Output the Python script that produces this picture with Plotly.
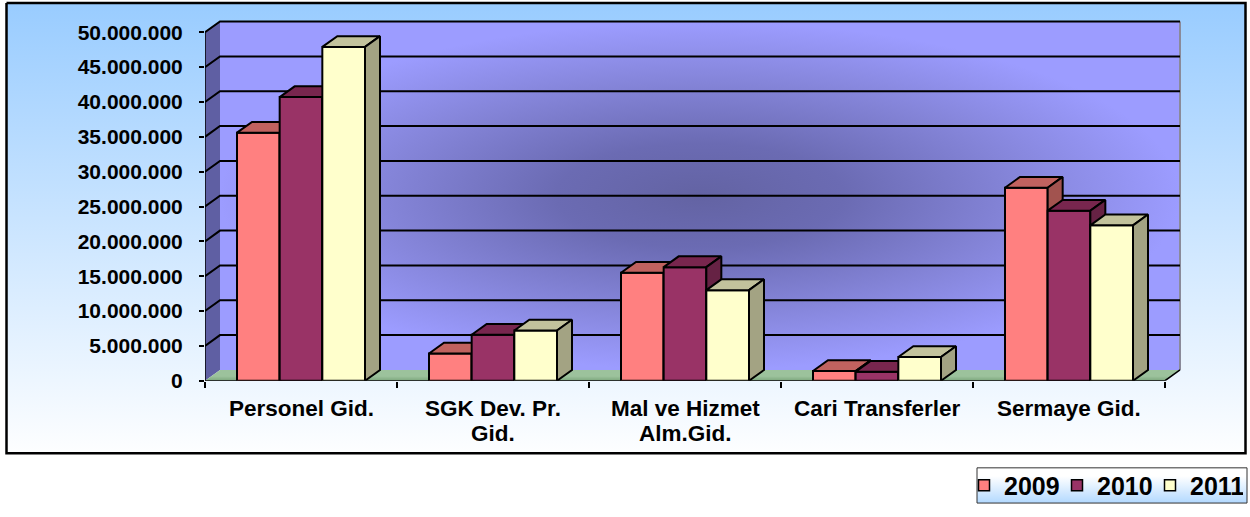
import plotly.graph_objects as go

# ---------------- data ----------------
categories = ["Personel Gid.", "SGK Dev. Pr.<br>Gid.", "Mal ve Hizmet<br>Alm.Gid.",
              "Cari Transferler", "Sermaye Gid."]
years = ["2009", "2010", "2011"]
values_2009 = [35.6e6, 3.9e6, 15.5e6, 1.4e6, 27.7e6]
values_2010 = [40.7e6, 6.6e6, 16.3e6, 1.3e6, 24.4e6]
values_2011 = [47.9e6, 7.2e6, 13.0e6, 3.4e6, 22.3e6]
y_tick_values = [0, 5e6, 10e6, 15e6, 20e6, 25e6, 30e6, 35e6, 40e6, 45e6, 50e6]

# ---------------- styles / geometry ----------------
W, H = 1250, 517
FONT = "Liberation Sans, Arial, sans-serif"
front_col = {"2009": "#FF8080", "2010": "#993366", "2011": "#FFFFCC"}
top_col = {"2009": "#C1625F", "2010": "#78264E", "2011": "#C2C29C"}
side_col = {"2009": "#A2534F", "2010": "#662244", "2011": "#A3A383"}

px_left, px_right_dom = 205, 1185
px_zero, px_top_dom = 389, 18
cat_px = 192.0
px_per_unit_y = (389 - 33) / 50e6
depth_px_x, depth_px_y = 15, 11
label_top_px, label_pitch_px = 403, 25

x_min = -0.5
x_max = x_min + (px_right_dom - px_left) / cat_px
y_max = (px_zero - px_top_dom) / px_per_unit_y
DX = depth_px_x / cat_px
DY = depth_px_y / px_per_unit_y
n_cat = len(categories)
x_end = n_cat - 0.5
group_w = 2 / 3.0
bar_w = group_w / 3
y_top = y_tick_values[-1]

fig = go.Figure()

# ---------------- background (pixel coordinate axes) ----------------
bx0, by0, bx1, by1 = 6.5, 3, 1245.5, 463
fig.add_trace(go.Scatter(
    x=[bx0, bx1, bx1, bx0, bx0], y=[by0, by0, by1, by1, by0],
    mode="lines", fill="toself", line=dict(color="black", width=2.5),
    fillgradient=dict(type="vertical", start=by0, stop=by1,
                      colorscale=[[0, "#99CCFF"], [1, "#FFFFFF"]]),
    hoverinfo="skip", showlegend=False, xaxis="x", yaxis="y"))

lx0, ly0, lx1, ly1 = 977, 478, 1247, 514
fig.add_trace(go.Scatter(
    x=[lx0, lx1, lx1, lx0, lx0], y=[ly0, ly0, ly1, ly1, ly0],
    mode="lines", fill="toself", line=dict(color="#333333", width=1),
    fillgradient=dict(type="vertical", start=ly0, stop=ly1,
                      colorscale=[[0, "#FFFFFF"], [1, "#99CCFF"]]),
    hoverinfo="skip", showlegend=False, xaxis="x", yaxis="y"))

# ---------------- walls (main axes) ----------------
def poly(xs, ys, **kw):
    fig.add_trace(go.Scatter(x=xs, y=ys, mode="lines", hoverinfo="skip",
                             showlegend=False, xaxis="x2", yaxis="y2", **kw))

poly([x_min + DX, x_end + DX, x_end + DX, x_min + DX, x_min + DX],
     [DY, DY, y_top + DY, y_top + DY, DY],
     fill="toself", line=dict(width=0, color="rgba(0,0,0,0)"),
     fillgradient=dict(type="radial",
                       colorscale=[[0, "#6363A3"], [0.3, "#6B6BB3"], [0.65, "#8484D8"], [1, "#9C9CFF"]]))
poly([x_min, x_min + DX, x_min + DX, x_min, x_min],
     [0, DY, y_top + DY, y_top, 0],
     fill="toself", line=dict(width=0, color="rgba(0,0,0,0)"), fillcolor="#5F5FA3")
poly([x_min, x_end, x_end + DX, x_min + DX, x_min],
     [0, 0, DY, DY, 0],
     fill="toself", line=dict(width=0, color="rgba(0,0,0,0)"),
     fillgradient=dict(type="vertical", start=0, stop=DY,
                      colorscale=[[0, "#4F7F4F"], [1, "#9CC29C"]]))

poly([x_end + DX, x_end + DX], [DY, y_top + DY], line=dict(color="#8A8A9A", width=2))

gx, gy = [], []
for v in y_tick_values[1:]:
    gx += [x_min, x_min + DX, x_end + DX, None]
    gy += [v, v + DY, v + DY, None]
poly(gx, gy, line=dict(color="black", width=2))

poly([x_min, x_min], [0, y_top], line=dict(color="black", width=1.5))
poly([x_min, x_end, x_end + DX], [0, 0, DY], line=dict(color="black", width=1.5))

# ---------------- 3D bars ----------------
series = [("2009", values_2009), ("2010", values_2010), ("2011", values_2011)]
for si, (name, vals) in enumerate(series):
    fx, fy, tx, ty, sx, sy = [], [], [], [], [], []
    for ci, v in enumerate(vals):
        x0 = ci - group_w / 2 + si * bar_w
        x1 = x0 + bar_w
        fx += [x0, x1, x1, x0, x0, None]
        fy += [0, 0, v, v, 0, None]
        tx += [x0, x1, x1 + DX, x0 + DX, x0, None]
        ty += [v, v, v + DY, v + DY, v, None]
        sx += [x1, x1 + DX, x1 + DX, x1, x1, None]
        sy += [0, DY, v + DY, v, 0, None]
    edge = dict(color="black", width=2)
    poly(fx, fy, fill="toself", fillcolor=front_col[name], line=edge)
    poly(tx, ty, fill="toself", fillcolor=top_col[name], line=edge)
    poly(sx, sy, fill="toself", fillcolor=side_col[name], line=edge)

for name in years:
    fig.add_trace(go.Scatter(
        x=[None], y=[None], mode="markers", name=name, xaxis="x2", yaxis="y2",
        marker=dict(symbol="square", size=11, color=front_col[name],
                    line=dict(color="black", width=1.5))))

# category labels (one annotation per text line, tight line spacing)
for ci, cat in enumerate(categories):
    for k, line in enumerate(cat.split("<br>")):
        fig.add_annotation(x=ci, xref="x2",
                           y=(H - (label_top_px + k * label_pitch_px)) / H, yref="paper",
                           yanchor="top", xanchor="center", text=line, showarrow=False,
                           font=dict(size=22.5, family=FONT, weight="bold", color="black"))

fig.update_layout(
    width=W, height=H, autosize=False,
    margin=dict(l=0, r=0, t=0, b=0),
    paper_bgcolor="white", plot_bgcolor="rgba(0,0,0,0)",
    separators=",.",
    font=dict(family=FONT, color="black"),
    xaxis=dict(domain=[0, 1], range=[0, W], visible=False, fixedrange=True),
    yaxis=dict(domain=[0, 1], range=[H, 0], visible=False, fixedrange=True),
    xaxis2=dict(domain=[px_left / W, px_right_dom / W], range=[x_min, x_max],
                anchor="y2", showgrid=False, zeroline=False, showline=False,
                tickmode="array", tickvals=list(range(n_cat)), ticktext=categories,
                ticks="", showticklabels=False,
                minor=dict(tickmode="array", tickvals=[i - 0.5 for i in range(n_cat + 1)],
                           ticks="outside", ticklen=6, tickwidth=1.5, tickcolor="black"),
                fixedrange=True),
    yaxis2=dict(domain=[(H - px_zero) / H, (H - px_top_dom) / H], range=[0, y_max],
                anchor="x2", showgrid=False, zeroline=False, showline=False,
                tickmode="array", tickvals=y_tick_values, tickformat=",d",
                ticks="outside", ticklen=5, tickwidth=1.5, tickcolor="black",
                tickfont=dict(size=21, family=FONT, weight="bold"),
                ticklabelstandoff=12, fixedrange=True),
    showlegend=True,
    legend=dict(orientation="h", x=964 / W, xanchor="left",
                y=(H - (ly0 + ly1) / 2) / H, yanchor="middle",
                bgcolor="rgba(0,0,0,0)", borderwidth=0,
                font=dict(size=25, family=FONT, weight="bold"), itemwidth=30,
                entrywidth=48, entrywidthmode="pixels",
                traceorder="normal"),
)

fig.write_html("out.html",
               config={"responsive": False, "displayModeBar": False},
               post_script="document.body.style.margin='0';")
